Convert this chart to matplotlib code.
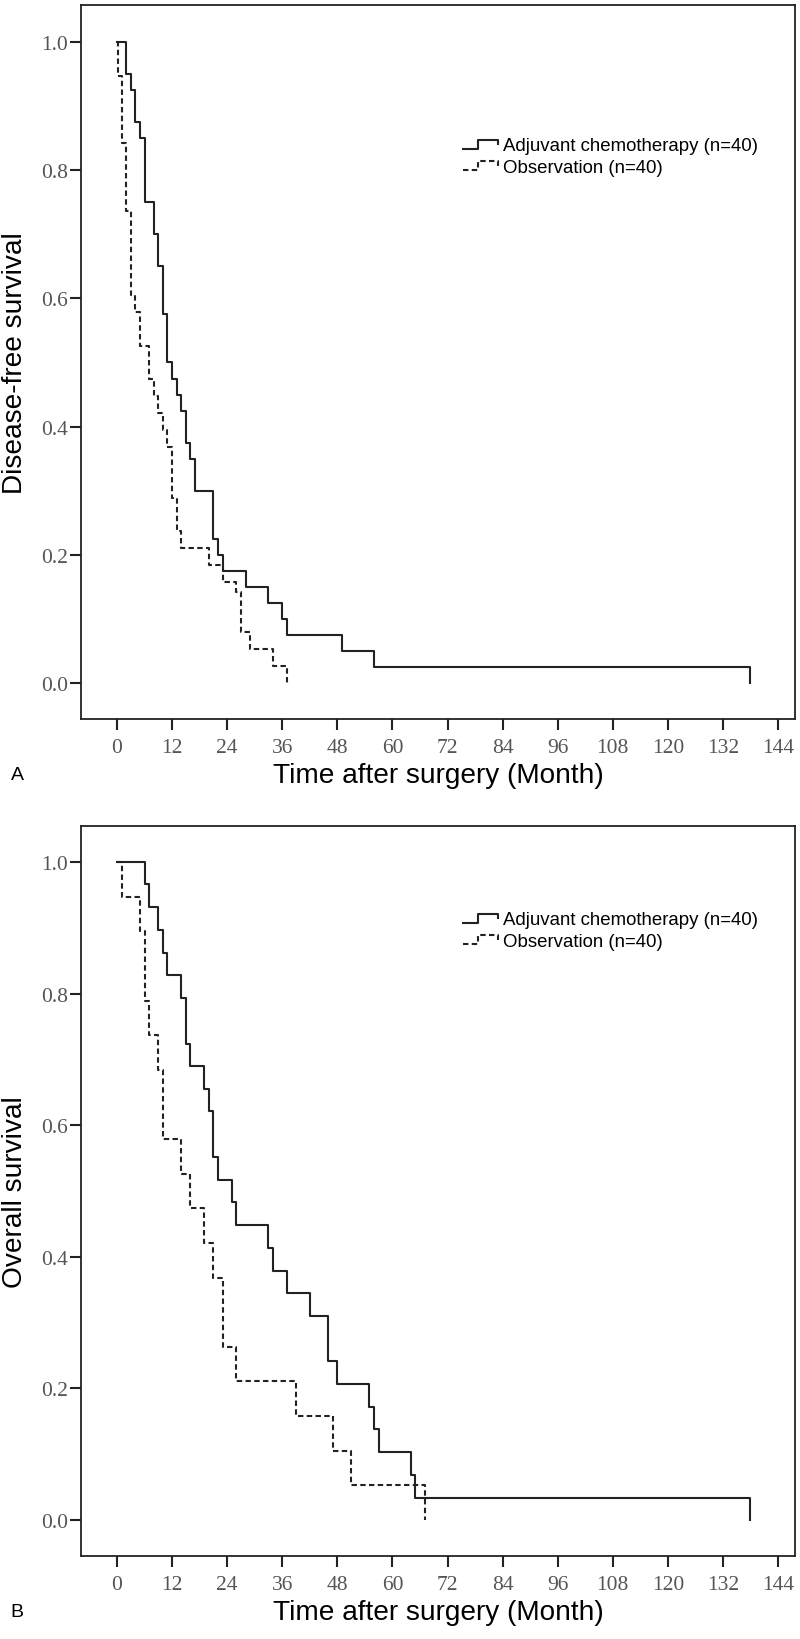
import numpy as np
import matplotlib
matplotlib.use('Agg')
import matplotlib.pyplot as plt
from matplotlib.legend_handler import HandlerBase
from matplotlib.lines import Line2D

# Disease-free survival (panel A)
dfs_chemo_t = [0, 2, 3, 4, 5, 6, 8, 9, 10, 11, 12, 13, 14, 15, 16, 17, 21, 22, 23, 28, 33, 36, 37, 49, 56, 138]
dfs_chemo_s = [1.0, 0.95, 0.925, 0.875, 0.85, 0.75, 0.70, 0.65, 0.575, 0.50, 0.475, 0.45, 0.425, 0.375,
               0.35, 0.30, 0.225, 0.20, 0.175, 0.15, 0.125, 0.10, 0.075, 0.05, 0.025, 0.0]
dfs_obs_t = [0, 0.2, 1, 2, 3, 4, 5, 7, 8, 9, 10, 11, 12, 13, 14, 20, 23, 26, 27, 29, 34, 37]
dfs_obs_s = [1.0, 0.947, 0.842, 0.737, 0.605, 0.579, 0.526, 0.474, 0.447, 0.421, 0.395, 0.368, 0.289,
             0.237, 0.211, 0.184, 0.158, 0.142, 0.079, 0.053, 0.026, 0.0]

# Overall survival (panel B)
os_chemo_t = [0, 6, 7, 9, 10, 11, 14, 15, 16, 19, 20, 21, 22, 25, 26, 33, 34, 37, 42, 46, 48, 55, 56, 57, 64, 65, 138]
os_chemo_s = [1.0, 0.966, 0.931, 0.897, 0.862, 0.828, 0.793, 0.724, 0.690, 0.655, 0.621, 0.552, 0.517,
              0.483, 0.448, 0.414, 0.379, 0.345, 0.310, 0.241, 0.207, 0.172, 0.138, 0.103, 0.069, 0.034, 0.0]
os_obs_t = [0, 1, 5, 6, 7, 9, 10, 14, 16, 19, 21, 23, 26, 39, 47, 51, 67]
os_obs_s = [1.0, 0.947, 0.895, 0.789, 0.737, 0.684, 0.579, 0.526, 0.474, 0.421, 0.368, 0.263, 0.211,
            0.158, 0.105, 0.053, 0.0]

labels = ['Adjuvant chemotherapy (n=40)', 'Observation (n=40)']
x_ticks = list(range(0, 145, 12))
y_ticks = [0.0, 0.2, 0.4, 0.6, 0.8, 1.0]

W, H = 800, 1640
line_col = '#222222'
tick_col = '#555555'
sans = ['Liberation Sans', 'DejaVu Sans']
serif = ['Liberation Serif', 'DejaVu Serif']


# значок легенды в виде ступеньки
class StepHandler(HandlerBase):
    def create_artists(self, legend, orig_handle, xdescent, ydescent, width, height, fontsize, trans):
        xs = np.array([0, 0.42, 0.42, 1.0, 1.0]) * width - xdescent
        ys = np.array([0.1, 0.1, 0.8, 0.8, 0.45]) * height - ydescent
        ln = Line2D(xs, ys)
        ln.update_from(orig_handle)
        ln.set_data(xs, ys)
        ln.set_transform(trans)
        return [ln]


fig = plt.figure(figsize=(W / 100, H / 100), dpi=100)

# (top px, bottom px, ylim, legend top px, panel letter, ylabel, curves)
panels = [
    (6, 720, (-0.0562, 1.0577), 138, 'A', 'Disease-free survival',
     (dfs_chemo_t, dfs_chemo_s), (dfs_obs_t, dfs_obs_s)),
    (827, 1557, (-0.0547, 1.0547), 912, 'B', 'Overall survival',
     (os_chemo_t, os_chemo_s), (os_obs_t, os_obs_s)),
]

left, right = 81, 795
for top, bot, ylim, leg_top, letter, ylab, chemo, obs in panels:
    ax = fig.add_axes([left / W, 1 - bot / H, (right - left) / W, (bot - top) / H])
    h1, = ax.step(chemo[0], chemo[1], where='post', color=line_col, lw=1.5, label=labels[0])
    h2, = ax.step(obs[0], obs[1], where='post', color=line_col, lw=1.5, dashes=(2.6, 1.6), label=labels[1])
    ax.set_xlim(-7.84, 147.7)
    ax.set_ylim(*ylim)
    ax.set_xticks(x_ticks)
    ax.set_yticks(y_ticks)
    ax.set_yticklabels([f'{v:.1f}' for v in y_ticks])
    for s in ax.spines.values():
        s.set_linewidth(1.3)
        s.set_color('#222222')
    ax.tick_params(direction='out', length=8, width=1.5, color='#222222', labelcolor=tick_col)
    ax.tick_params(axis='x', pad=6)
    ax.tick_params(axis='y', pad=1.5)
    for t in ax.get_xticklabels() + ax.get_yticklabels():
        t.set_family(serif)
        t.set_fontsize(15.5)

    ax.legend(handles=[h1, h2], loc='upper left',
              bbox_to_anchor=((463 - left) / (right - left), (bot - leg_top) / (bot - top)),
              frameon=False, borderpad=0, borderaxespad=0, handlelength=1.9, handletextpad=0.25,
              labelspacing=0.25, prop={'family': sans, 'size': 13.4},
              handler_map={Line2D: StepHandler()})

    fig.text(15 / W, 1 - (top + bot) / 2 / H, ylab, rotation=90, ha='center', va='center',
             family=sans, fontsize=20.2)
    fig.text((left + right) / 2 / W, 1 - (bot + 56) / H, 'Time after surgery (Month)', ha='center',
             va='center', family=sans, fontsize=20.2)
    fig.text(17 / W, 1 - (bot + 56) / H, letter, ha='center', va='center', family=sans, fontsize=14)

fig.savefig('out.png', dpi=100)
